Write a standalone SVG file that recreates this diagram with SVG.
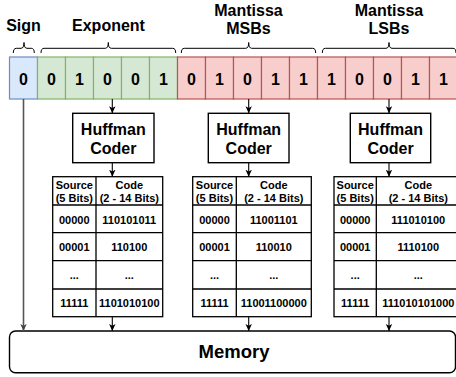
<svg xmlns="http://www.w3.org/2000/svg" width="456" height="377" viewBox="0 0 456 377">
<defs>
<marker id="ah" markerWidth="8" markerHeight="8" refX="7" refY="4" orient="auto" markerUnits="userSpaceOnUse">
<path d="M0,0.8 L7,4 L0,7.2 L1.8,4 Z" fill="#000"/>
</marker>
<marker id="ahg" markerWidth="8" markerHeight="8" refX="7" refY="4" orient="auto" markerUnits="userSpaceOnUse">
<path d="M0,0.8 L7,4 L0,7.2 L1.8,4 Z" fill="#444"/>
</marker>
</defs>
<style>
text{font-family:"Liberation Sans",Arial,Helvetica,sans-serif;font-weight:bold;fill:#000;text-anchor:middle}
.lbl{font-size:16px}
.bit{font-size:16px}
.b{fill:#dae8fc;stroke:#6c8ebf;stroke-width:1.2}
.g{fill:#d5e8d4;stroke:#82b366;stroke-width:1.2}
.r{fill:#f8cecc;stroke:#b85450;stroke-width:1.2}
.brace{fill:none;stroke:#000;stroke-width:1}
.box{fill:#fff;stroke:#000;stroke-width:1.4}
.tl{stroke:#000;stroke-width:1.3;fill:none}
.tt{font-size:11px}
.hc{font-size:16px}
.conn{stroke:#000;stroke-width:1.1;fill:none;marker-end:url(#ah)}
.mem{font-size:18.5px}
</style>

<g id="labels">
<text class="lbl" x="23.5" y="31">Sign</text>
<text class="lbl" x="108.5" y="31">Exponent</text>
<text class="lbl" x="248.5" y="15.5">Mantissa</text>
<text class="lbl" x="248.5" y="33.5">MSBs</text>
<text class="lbl" x="389" y="15.5">Mantissa</text>
<text class="lbl" x="389" y="33.5">LSBs</text>
</g>

<g id="braces">
<path class="brace" d="M13.3,53 Q13.3,48.3 16.3,48.3 L21,48.3 Q24,48.3 24,42.5 Q24,48.3 27,48.3 L31.3,48.3 Q34.3,48.3 34.3,53"/>
<path class="brace" d="M41,53 Q41,48.3 44,48.3 L105.3,48.3 Q108.3,48.3 108.3,42.5 Q108.3,48.3 111.3,48.3 L172.7,48.3 Q175.7,48.3 175.7,53"/>
<path class="brace" d="M181.3,53 Q181.3,48.3 184.3,48.3 L245.7,48.3 Q248.7,48.3 248.7,42.5 Q248.7,48.3 251.7,48.3 L312.7,48.3 Q315.7,48.3 315.7,53"/>
<path class="brace" d="M322.3,53 Q322.3,48.3 325.3,48.3 L386,48.3 Q389,48.3 389,42.5 Q389,48.3 392,48.3 L453,48.3 Q456,48.3 456,53"/>
</g>

<g id="bits">
<rect class="b" x="9.5" y="57" width="28" height="42"/>
<rect class="g" x="37.5" y="57" width="28" height="42"/>
<rect class="g" x="65.5" y="57" width="28" height="42"/>
<rect class="g" x="93.5" y="57" width="28" height="42"/>
<rect class="g" x="121.5" y="57" width="28" height="42"/>
<rect class="g" x="149.5" y="57" width="28" height="42"/>
<rect class="r" x="177.5" y="57" width="28" height="42"/>
<rect class="r" x="205.5" y="57" width="28" height="42"/>
<rect class="r" x="233.5" y="57" width="28" height="42"/>
<rect class="r" x="261.5" y="57" width="28" height="42"/>
<rect class="r" x="289.5" y="57" width="28" height="42"/>
<rect class="r" x="317.5" y="57" width="28" height="42"/>
<rect class="r" x="345.5" y="57" width="28" height="42"/>
<rect class="r" x="373.5" y="57" width="28" height="42"/>
<rect class="r" x="401.5" y="57" width="28" height="42"/>
<rect class="r" x="429.5" y="57" width="28" height="42"/>
<text class="bit" x="23.5" y="84.5">0</text>
<text class="bit" x="51.5" y="84.5">0</text>
<text class="bit" x="79.5" y="84.5">1</text>
<text class="bit" x="107.5" y="84.5">0</text>
<text class="bit" x="135.5" y="84.5">0</text>
<text class="bit" x="163.5" y="84.5">1</text>
<text class="bit" x="191.5" y="84.5">0</text>
<text class="bit" x="219.5" y="84.5">1</text>
<text class="bit" x="247.5" y="84.5">0</text>
<text class="bit" x="275.5" y="84.5">1</text>
<text class="bit" x="303.5" y="84.5">1</text>
<text class="bit" x="331.5" y="84.5">1</text>
<text class="bit" x="359.5" y="84.5">0</text>
<text class="bit" x="387.5" y="84.5">0</text>
<text class="bit" x="415.5" y="84.5">1</text>
<text class="bit" x="443.5" y="84.5">1</text>
</g>

<g id="huffman1">
<rect class="box" x="72.7" y="113.3" width="81.3" height="49.4"/>
<text class="hc" x="113.3" y="135">Huffman</text>
<text class="hc" x="113.3" y="153.5">Coder</text>
</g>
<g id="huffman2">
<rect class="box" x="208.3" y="113.3" width="80.7" height="49.4"/>
<text class="hc" x="248.7" y="135">Huffman</text>
<text class="hc" x="248.7" y="153.5">Coder</text>
</g>
<g id="huffman3">
<rect class="box" x="350.3" y="113.3" width="80.4" height="49.4"/>
<text class="hc" x="390.5" y="135">Huffman</text>
<text class="hc" x="390.5" y="153.5">Coder</text>
</g>

<g id="table1">
<rect class="tl" x="52.7" y="176.7" width="110" height="140"/>
<path class="tl" d="M96,176.7 V316.7 M52.7,205 H162.7 M52.7,232.7 H162.7 M52.7,260.7 H162.7 M52.7,289 H162.7"/>
<text class="tt" x="74.3" y="188.5">Source</text>
<text class="tt" x="74.3" y="202">(5 Bits)</text>
<text class="tt" x="129.3" y="188.5">Code</text>
<text class="tt" x="129.3" y="202">(2 - 14 Bits)</text>
<text class="tt" x="74.3" y="223.5">00000</text>
<text class="tt" x="129.3" y="223.5">110101011</text>
<text class="tt" x="74.3" y="251">00001</text>
<text class="tt" x="129.3" y="251">110100</text>
<text class="tt" x="74.3" y="279">...</text>
<text class="tt" x="129.3" y="279">...</text>
<text class="tt" x="74.3" y="306.5">11111</text>
<text class="tt" x="129.3" y="306.5">1101010100</text>
</g>
<g id="table2">
<rect class="tl" x="192.7" y="176.7" width="118.6" height="140"/>
<path class="tl" d="M236.3,176.7 V316.7 M192.7,205 H311.3 M192.7,232.7 H311.3 M192.7,260.7 H311.3 M192.7,289 H311.3"/>
<text class="tt" x="214.5" y="188.5">Source</text>
<text class="tt" x="214.5" y="202">(5 Bits)</text>
<text class="tt" x="273.8" y="188.5">Code</text>
<text class="tt" x="273.8" y="202">(2 - 14 Bits)</text>
<text class="tt" x="214.5" y="223.5">00000</text>
<text class="tt" x="273.8" y="223.5">11001101</text>
<text class="tt" x="214.5" y="251">00001</text>
<text class="tt" x="273.8" y="251">110010</text>
<text class="tt" x="214.5" y="279">...</text>
<text class="tt" x="273.8" y="279">...</text>
<text class="tt" x="214.5" y="306.5">11111</text>
<text class="tt" x="273.8" y="306.5">11001100000</text>
</g>
<g id="table3">
<rect class="tl" x="334" y="176.7" width="126" height="140"/>
<path class="tl" d="M376.3,176.7 V316.7 M334,205 H460 M334,232.7 H460 M334,260.7 H460 M334,289 H460"/>
<text class="tt" x="355.2" y="188.5">Source</text>
<text class="tt" x="355.2" y="202">(5 Bits)</text>
<text class="tt" x="418.3" y="188.5">Code</text>
<text class="tt" x="418.3" y="202">(2 - 14 Bits)</text>
<text class="tt" x="355.2" y="223.5">00000</text>
<text class="tt" x="418.3" y="223.5">111010100</text>
<text class="tt" x="355.2" y="251">00001</text>
<text class="tt" x="418.3" y="251">1110100</text>
<text class="tt" x="355.2" y="279">...</text>
<text class="tt" x="418.3" y="279">...</text>
<text class="tt" x="355.2" y="306.5">11111</text>
<text class="tt" x="418.3" y="306.5">111010101000</text>
</g>

<g id="memory">
<rect class="box" x="9.5" y="331" width="446" height="41.7" rx="6"/>
<text class="mem" x="234" y="357.5">Memory</text>
</g>

<g id="connectors">
<path class="conn" d="M112.3,99 V113.3"/>
<path class="conn" d="M248.7,99 V113.3"/>
<path class="conn" d="M389,99 V113.3"/>
<path class="conn" d="M112.3,162.7 V176.7"/>
<path class="conn" d="M248.7,162.7 V176.7"/>
<path class="conn" d="M389,162.7 V176.7"/>
<path class="conn" d="M112.3,316.7 V331"/>
<path class="conn" d="M248.7,316.7 V331"/>
<path class="conn" d="M389,316.7 V331"/>
<path d="M23.5,99 V331" fill="none" stroke="#555" stroke-width="1.6" marker-end="url(#ahg)"/>
</g>
</svg>
